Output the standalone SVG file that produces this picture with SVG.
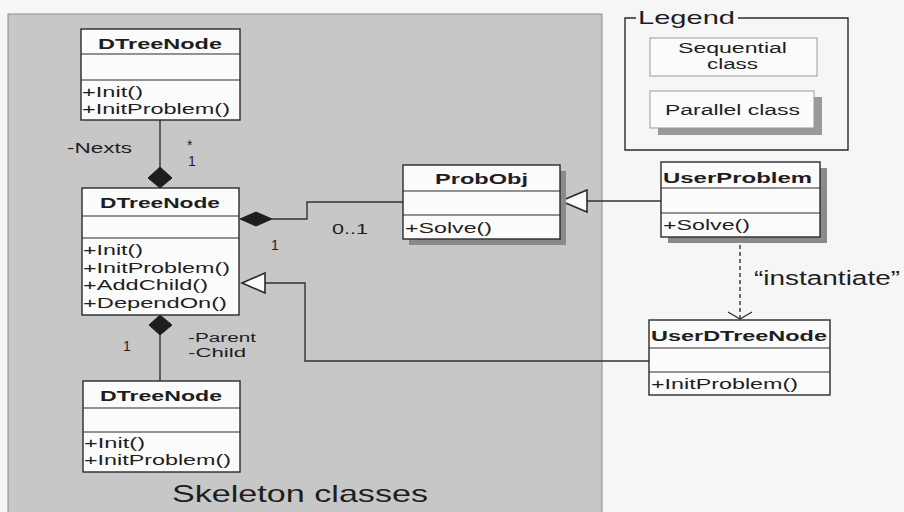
<svg xmlns="http://www.w3.org/2000/svg" width="904" height="512" viewBox="0 0 904 512">
<style>
text{font-family:"Liberation Sans",Arial,sans-serif;fill:#1e1e1e}
.t{font-weight:bold;font-size:15px}
.m{font-size:15px}
.l{font-size:14px}
.box{fill:#fbfbfb;stroke:#2a2a2a;stroke-width:1.4}
.div{stroke:#2a2a2a;stroke-width:1.2}
.sh{fill:#8a8a8a}
.c{fill:none;stroke:#333;stroke-width:1.4}
.dia{fill:#1e1e1e;stroke:#1e1e1e}
.tri{fill:#fbfbfb;stroke:#2a2a2a;stroke-width:1.6}
</style>
<rect width="904" height="512" fill="#f6f6f6"/>
<g id="skeleton-panel">
<rect x="8" y="14" width="594" height="510" fill="#c7c7c7" stroke="#8a8a8a" stroke-width="1"/>
<text x="172" y="502" style="font-size:24px" textLength="256" lengthAdjust="spacingAndGlyphs">Skeleton classes</text>
</g>
<g id="connectors">
<line class="c" x1="160" y1="120" x2="160" y2="167"/>
<polygon class="dia" points="160,167 172,178 160,188 148,178"/>
<polyline class="c" points="272,219 307,219 307,202 403,202"/>
<polygon class="dia" points="240,219 256,212 272,219 256,226"/>
<line class="c" x1="160" y1="335" x2="160" y2="381"/>
<polygon class="dia" points="160,315 172,325 160,335 149,325"/>
<polyline class="c" points="265,283 305,283 305,361 649,361"/>
<polygon class="tri" points="242,283 265,273 265,293"/>
<line class="c" x1="587" y1="201" x2="661" y2="201"/>
<polygon class="tri" points="561,201 587,190 587,212"/>
<line class="c" x1="740" y1="238" x2="740" y2="319" stroke-dasharray="4,3"/>
<polyline class="c" points="728,312 740,319 752,312"/>
<text class="l" x="67" y="153" textLength="65" lengthAdjust="spacingAndGlyphs">-Nexts</text>
<text class="l" x="187" y="150">*</text>
<text class="l" x="188" y="166">1</text>
<text class="l" x="271" y="250">1</text>
<text class="l" x="332" y="234" textLength="36" lengthAdjust="spacingAndGlyphs">0..1</text>
<text class="l" x="123" y="351">1</text>
<text x="188" y="342" style="font-size:12px" textLength="68" lengthAdjust="spacingAndGlyphs">-Parent</text>
<text x="188" y="357" style="font-size:12px" textLength="58" lengthAdjust="spacingAndGlyphs">-Child</text>
<text x="754" y="285" style="font-size:20px" textLength="146" lengthAdjust="spacingAndGlyphs">“instantiate”</text>
</g>
<g id="dtreenode-top">
<rect class="box" x="81" y="29" width="159" height="91"/>
<line class="div" x1="81" y1="54" x2="240" y2="54"/>
<line class="div" x1="81" y1="80" x2="240" y2="80"/>
<text class="t" x="98" y="49" textLength="124" lengthAdjust="spacingAndGlyphs">DTreeNode</text>
<text class="m" x="82" y="97" textLength="61" lengthAdjust="spacingAndGlyphs">+Init()</text>
<text class="m" x="82" y="114" textLength="148" lengthAdjust="spacingAndGlyphs">+InitProblem()</text>
</g>
<g id="dtreenode-mid">
<rect class="box" x="82" y="188" width="157" height="127"/>
<line class="div" x1="82" y1="216" x2="239" y2="216"/>
<line class="div" x1="82" y1="238" x2="239" y2="238"/>
<text class="t" x="100" y="208" textLength="120" lengthAdjust="spacingAndGlyphs">DTreeNode</text>
<text class="m" x="83" y="255" textLength="60" lengthAdjust="spacingAndGlyphs">+Init()</text>
<text class="m" x="83" y="273" textLength="147" lengthAdjust="spacingAndGlyphs">+InitProblem()</text>
<text class="m" x="83" y="290" textLength="125" lengthAdjust="spacingAndGlyphs">+AddChild()</text>
<text class="m" x="83" y="308" textLength="144" lengthAdjust="spacingAndGlyphs">+DependOn()</text>
</g>
<g id="dtreenode-bottom">
<rect class="box" x="83" y="381" width="157" height="91"/>
<line class="div" x1="83" y1="408" x2="240" y2="408"/>
<line class="div" x1="83" y1="432" x2="240" y2="432"/>
<text class="t" x="100" y="401" textLength="122" lengthAdjust="spacingAndGlyphs">DTreeNode</text>
<text class="m" x="84" y="448" textLength="61" lengthAdjust="spacingAndGlyphs">+Init()</text>
<text class="m" x="84" y="465" textLength="147" lengthAdjust="spacingAndGlyphs">+InitProblem()</text>
</g>
<g id="probobj">
<rect class="sh" x="409" y="171" width="157" height="74"/>
<rect class="box" x="403" y="165" width="157" height="74"/>
<line class="div" x1="403" y1="191" x2="560" y2="191"/>
<line class="div" x1="403" y1="215" x2="560" y2="215"/>
<text class="t" x="435" y="184" textLength="93" lengthAdjust="spacingAndGlyphs">ProbObj</text>
<text class="m" x="405" y="233" textLength="87" lengthAdjust="spacingAndGlyphs">+Solve()</text>
</g>
<g id="userproblem">
<rect class="sh" x="668" y="168" width="159" height="75"/>
<rect class="box" x="661" y="162" width="159" height="75"/>
<line class="div" x1="661" y1="188" x2="820" y2="188"/>
<line class="div" x1="661" y1="213" x2="820" y2="213"/>
<text class="t" x="663" y="183" textLength="149" lengthAdjust="spacingAndGlyphs">UserProblem</text>
<text class="m" x="663" y="230" textLength="87" lengthAdjust="spacingAndGlyphs">+Solve()</text>
</g>
<g id="userdtreenode">
<rect class="box" x="649" y="320" width="181" height="75"/>
<line class="div" x1="649" y1="348" x2="830" y2="348"/>
<line class="div" x1="649" y1="372" x2="830" y2="372"/>
<text class="t" x="651" y="341" textLength="176" lengthAdjust="spacingAndGlyphs">UserDTreeNode</text>
<text class="m" x="651" y="389" textLength="147" lengthAdjust="spacingAndGlyphs">+InitProblem()</text>
</g>
<g id="legend">
<polyline fill="none" stroke="#2a2a2a" stroke-width="1.4" points="636,18 625,18 625,150 848,150 848,18 738,18"/>
<text x="638" y="24" style="font-size:19px" textLength="97" lengthAdjust="spacingAndGlyphs">Legend</text>
<rect x="650" y="38" width="167" height="38" fill="#fbfbfb" stroke="#9a9a9a" stroke-width="1"/>
<text class="l" x="678" y="53" textLength="109" lengthAdjust="spacingAndGlyphs">Sequential</text>
<text class="l" x="707" y="69" textLength="51" lengthAdjust="spacingAndGlyphs">class</text>
<rect x="658" y="97" width="164" height="38" fill="#999"/>
<rect x="650" y="91" width="164" height="37" fill="#fbfbfb" stroke="#9a9a9a" stroke-width="1"/>
<text class="l" x="665" y="115" textLength="135" lengthAdjust="spacingAndGlyphs">Parallel class</text>
</g>
</svg>
